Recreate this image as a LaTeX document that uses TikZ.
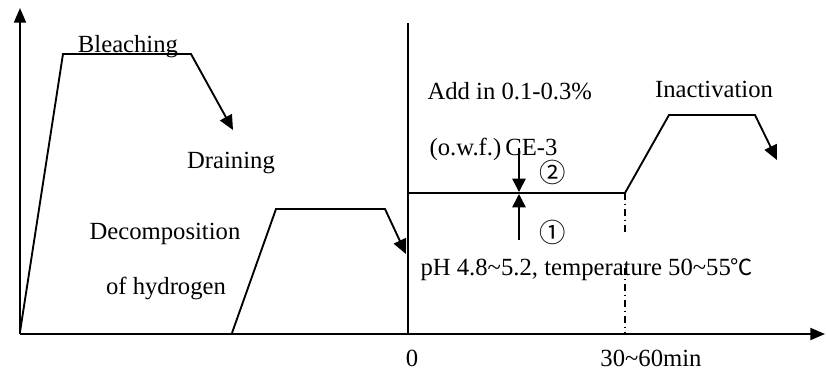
\documentclass[tikz,border=0pt]{standalone}
\usepackage{fontspec}
\setmainfont{Liberation Serif}
\newfontfamily\symbfont{Noto Sans CJK SC}[Scale=0.9]
\usepackage{tikz}
\usetikzlibrary{arrows.meta, positioning}

\begin{document}
\begin{tikzpicture}[x=0.75pt, y=-0.75pt,
    curve/.style={line width=1.4pt, line join=miter},
    axis/.style={line width=1.4pt, -{Triangle[length=11pt, width=9pt]}},
    drain/.style={curve, -{Triangle[length=11pt, width=10pt]}},
    dose/.style={line width=1.2pt, -{Triangle[length=10pt, width=10pt]}},
    guide/.style={line width=1.1pt, dash pattern=on 5pt off 3pt on 1pt off 3pt},
    lbl/.style={font=\fontsize{18.5}{22}\selectfont, inner sep=1pt, anchor=base},
    stepnum/.style={font=\symbfont\fontsize{22}{24}\selectfont, inner sep=0pt}]

    \useasboundingbox (0,0) rectangle (826,372);

    \coordinate (o) at (20,334);
    \coordinate (ytop) at (20,8);
    \coordinate (xend) at (825,334);
    \coordinate (zero) at (408,334);
    \coordinate (ztop) at (408,23);
    \coordinate (hold) at (408,193);
    \coordinate (hend) at (625,193);
    \coordinate (tend) at (625,334);

    \draw[axis] (o) -- (ytop);
    \draw[axis] (o) -- (xend);
    \draw[curve] (zero) -- (ztop);

    \draw[drain] (20,332) -- (63,54) -- (191,54) -- (233,130);
    \draw[drain] (232,333) -- (276,209) -- (385,209) -- (406,254);
    \draw[curve] (hold) -- (hend);
    \draw[drain] (hend) -- (669,115) -- (755,115) -- (777,160);
    \draw[guide] (hend) -- (625,232);
    \draw[guide] (625,268) -- (tend);

    \draw[dose] (519,148) -- (519,192);
    \draw[dose] (519,240) -- (519,194);

    \node[lbl] (bleach) at (128,52) {Bleaching};
    \node[lbl] (drain) at (231,168) {Draining};
    \node[lbl] (decomp) at (165,239) {Decomposition};
    \node[lbl] (hydro) at (166,294) {of hydrogen};
    \node[lbl, anchor=base west] (add) at (426,99) {Add in 0.1-0.3\%};
    \node[lbl, anchor=base west] (owf) at (428,155) {(o.w.f.)\,CE-3};
    \node[stepnum] (two) at (553,172) {②};
    \node[stepnum] (one) at (553,232) {①};
    \node[lbl, anchor=base west] (cond) at (419,275) {pH 4.8\textasciitilde5.2, temperature 50\textasciitilde55{\symbfont ℃}};
    \node[lbl] (inact) at (714,97) {Inactivation};
    \node[lbl] (t0) at (412,366) {0};
    \node[lbl] (t1) at (651,366) {30\textasciitilde60min};
\end{tikzpicture}
\end{document}
